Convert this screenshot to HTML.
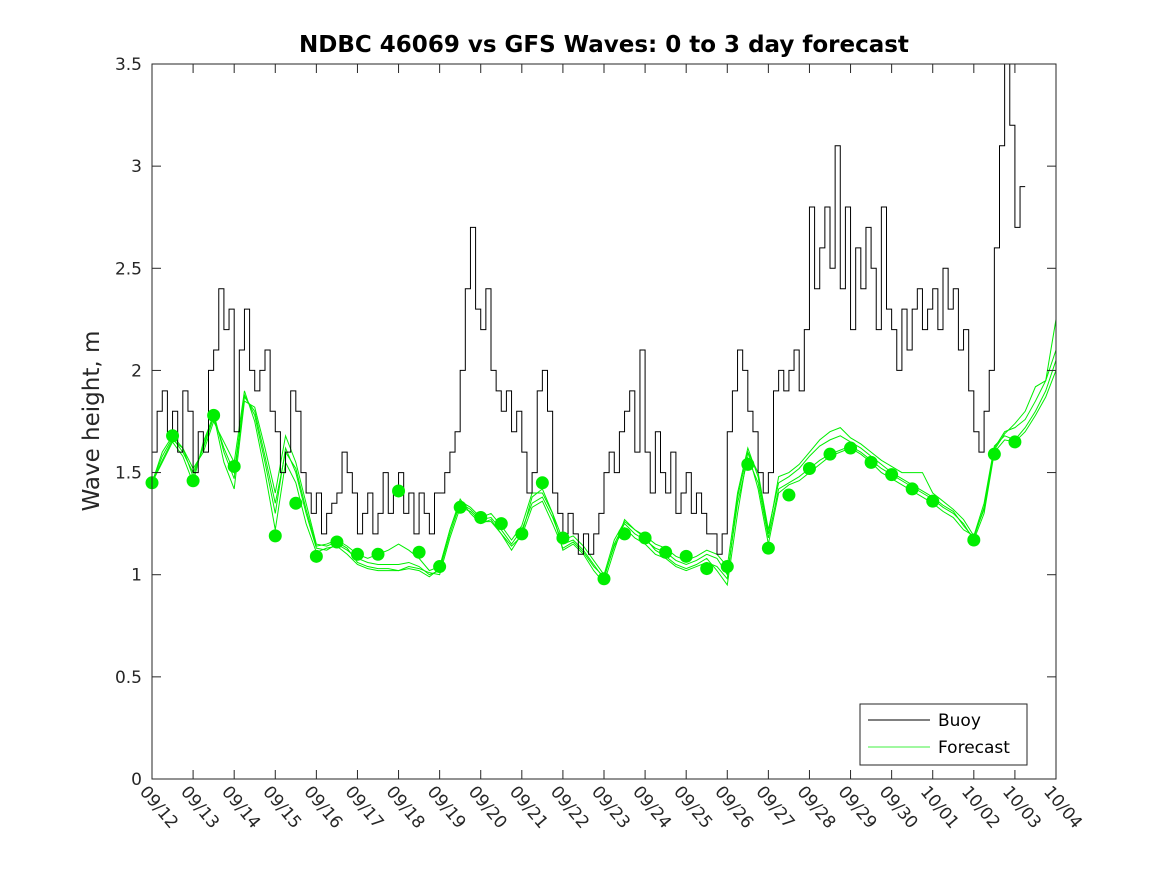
<!DOCTYPE html>
<html><head><meta charset="utf-8">
<style>
body{margin:0;background:#fff;}
svg text{font-family:"DejaVu Sans","Liberation Sans",sans-serif;}
</style></head>
<body>
<svg id="chart" width="1167" height="875" viewBox="0 0 1167 875">
<rect x="0" y="0" width="1167" height="875" fill="#fff"/>
<text x="604" y="52" text-anchor="middle" font-size="23" font-weight="bold" fill="#000">NDBC 46069 vs GFS Waves: 0 to 3 day forecast</text>
<text transform="translate(99,421) rotate(-90)" text-anchor="middle" font-size="23" fill="#262626">Wave height, m</text>
<g id="fc"></g>
<g id="buoy"></g>
<g id="dots"></g>
<rect x="152" y="64" width="904" height="715" fill="none" stroke="#262626" stroke-width="1"/>
<g id="ticks"></g>
<g>
<rect x="860" y="704" width="167" height="61" fill="#fff" stroke="#262626" stroke-width="1"/>
<line x1="868" y1="720" x2="930" y2="720" stroke="#000" stroke-width="1"/>
<text x="938" y="726" font-size="17" fill="#000">Buoy</text>
<line x1="868" y1="747" x2="930" y2="747" stroke="#00ee00" stroke-width="0.8"/>
<text x="938" y="753" font-size="17" fill="#000">Forecast</text>
</g>
</svg>
<script>
const xLabels=["09/12","09/13","09/14","09/15","09/16","09/17","09/18","09/19","09/20","09/21","09/22","09/23","09/24","09/25","09/26","09/27","09/28","09/29","09/30","10/01","10/02","10/03","10/04"];
const yTicks=[0,0.5,1,1.5,2,2.5,3,3.5];
const buoyStep=0.125;
const buoyVals=[1.6,1.8,1.9,1.7,1.8,1.6,1.9,1.8, 1.5,1.7,1.6,2.0,2.1,2.4,2.2,2.3, 1.7,2.1,2.3,2.0,1.9,2.0,2.1,1.8, 1.7,1.5,1.6,1.9,1.8,1.5,1.4,1.3, 1.4,1.2,1.3,1.35,1.4,1.6,1.5,1.4, 1.2,1.3,1.4,1.2,1.3,1.5,1.3,1.4, 1.5,1.3,1.4,1.2,1.4,1.3,1.2,1.4, 1.4,1.5,1.6,1.7,2.0,2.4,2.7,2.3, 2.2,2.4,2.0,1.9,1.8,1.9,1.7,1.8, 1.6,1.4,1.5,1.9,2.0,1.8,1.4,1.3, 1.2,1.3,1.2,1.1,1.2,1.1,1.2,1.3, 1.5,1.6,1.5,1.7,1.8,1.9,1.6,2.1, 1.6,1.4,1.7,1.5,1.4,1.6,1.3,1.4, 1.5,1.3,1.4,1.3,1.2,1.2,1.1,1.2, 1.7,1.9,2.1,2.0,1.8,1.7,1.5,1.4, 1.5,1.9,2.0,1.9,2.0,2.1,1.9,2.2, 2.8,2.4,2.6,2.8,2.5,3.1,2.4,2.8, 2.2,2.6,2.4,2.7,2.5,2.2,2.8,2.3, 2.2,2.0,2.3,2.1,2.3,2.4,2.2,2.3, 2.4,2.2,2.5,2.3,2.4,2.1,2.2,1.9, 1.7,1.6,1.8,2.0,2.6,3.1,3.5,3.2, 2.7,2.9];
const fcA=[1.45,1.58,1.67,1.60,1.50,1.62,1.77,1.62,1.50,1.88,1.78,1.55,1.30,1.62,1.50,1.30,1.13,1.12,1.15,1.12,1.08,1.06,1.05,1.05,1.05,1.06,1.04,1.00,1.02,1.20,1.35,1.32,1.27,1.28,1.22,1.15,1.22,1.35,1.38,1.28,1.15,1.17,1.12,1.05,0.98,1.15,1.25,1.20,1.17,1.13,1.11,1.07,1.05,1.07,1.10,1.08,1.00,1.35,1.57,1.45,1.18,1.42,1.45,1.48,1.52,1.56,1.59,1.61,1.63,1.60,1.56,1.52,1.49,1.46,1.43,1.40,1.37,1.33,1.30,1.25,1.17,1.30,1.60,1.66,1.65,1.70,1.78,1.87,2.00];
const fcB=[1.45,1.55,1.65,1.58,1.45,1.65,1.78,1.55,1.42,1.85,1.82,1.62,1.40,1.68,1.55,1.35,1.15,1.14,1.16,1.13,1.06,1.04,1.03,1.03,1.02,1.03,1.02,0.99,1.03,1.22,1.37,1.30,1.25,1.27,1.20,1.12,1.20,1.38,1.42,1.30,1.12,1.15,1.10,1.02,0.96,1.12,1.27,1.22,1.18,1.12,1.09,1.05,1.03,1.05,1.08,1.02,0.95,1.30,1.60,1.50,1.22,1.45,1.48,1.52,1.58,1.63,1.66,1.68,1.65,1.62,1.58,1.54,1.50,1.47,1.44,1.41,1.38,1.34,1.31,1.24,1.18,1.33,1.62,1.70,1.72,1.76,1.85,1.95,2.25];
const fcC=[1.45,1.56,1.66,1.62,1.52,1.60,1.75,1.65,1.55,1.90,1.75,1.50,1.22,1.55,1.45,1.25,1.11,1.13,1.14,1.10,1.05,1.03,1.02,1.02,1.02,1.04,1.03,1.01,1.00,1.18,1.33,1.31,1.26,1.26,1.20,1.14,1.19,1.33,1.36,1.25,1.13,1.16,1.11,1.04,0.99,1.14,1.23,1.18,1.15,1.10,1.08,1.04,1.02,1.04,1.06,1.04,0.98,1.38,1.60,1.42,1.15,1.40,1.44,1.46,1.50,1.54,1.58,1.60,1.62,1.59,1.55,1.50,1.47,1.44,1.41,1.38,1.35,1.31,1.28,1.22,1.19,1.35,1.63,1.68,1.66,1.72,1.80,1.90,2.05];
const fcD=[1.45,1.60,1.68,1.62,1.48,1.63,1.79,1.60,1.47,1.87,1.80,1.58,1.35,1.60,1.52,1.32,1.14,1.15,1.17,1.14,1.10,1.08,1.10,1.12,1.15,1.12,1.08,1.02,1.04,1.22,1.36,1.33,1.28,1.30,1.24,1.17,1.24,1.40,1.40,1.30,1.17,1.19,1.14,1.07,1.00,1.17,1.26,1.22,1.19,1.15,1.13,1.09,1.07,1.09,1.12,1.10,1.04,1.40,1.62,1.48,1.20,1.48,1.50,1.54,1.60,1.66,1.70,1.72,1.67,1.64,1.60,1.56,1.53,1.50,1.50,1.50,1.40,1.36,1.32,1.27,1.19,1.32,1.61,1.69,1.74,1.80,1.92,1.95,2.10];
const dotDays=[0,0.5,1,1.5,2,3,3.5,4,4.5,5,5.5,6,6.5,7,7.5,8,8.5,9,9.5,10,11,11.5,12,12.5,13,13.5,14,14.5,15,15.5,16,16.5,17,17.5,18,18.5,19,20,20.5,21];
const dotVals=[1.45,1.68,1.46,1.78,1.53,1.19,1.35,1.09,1.16,1.10,1.10,1.41,1.11,1.04,1.33,1.28,1.25,1.20,1.45,1.18,0.98,1.20,1.18,1.11,1.09,1.03,1.04,1.54,1.13,1.39,1.52,1.59,1.62,1.55,1.49,1.42,1.36,1.17,1.59,1.65];

const X0=152,X1=1056,Y0=779,Y1=64;
const xs=d=>X0+(X1-X0)*d/22;
const ys=v=>Y0-(Y0-Y1)*v/3.5;
const NS="http://www.w3.org/2000/svg";
function mk(tag,parent){const e=document.createElementNS(NS,tag);document.getElementById(parent).appendChild(e);return e;}

yTicks.forEach((t,i)=>{
  const y=ys(t);
  const l1=mk("line","ticks");l1.setAttribute("x1",X0);l1.setAttribute("x2",X0+9);l1.setAttribute("y1",y);l1.setAttribute("y2",y);l1.setAttribute("stroke","#262626");
  
  
  const l2=mk("line","ticks");l2.setAttribute("x1",X1);l2.setAttribute("x2",X1-9);l2.setAttribute("y1",y);l2.setAttribute("y2",y);l2.setAttribute("stroke","#262626");
  
  
  const tx=mk("text","ticks");tx.setAttribute("x",X0-10);tx.setAttribute("y",y+6);tx.setAttribute("text-anchor","end");tx.setAttribute("font-size","17");tx.setAttribute("fill","#262626");tx.textContent=t;
  
  
});
xLabels.forEach((s,i)=>{
  const x=xs(i);
  const l1=mk("line","ticks");l1.setAttribute("x1",x);l1.setAttribute("x2",x);l1.setAttribute("y1",Y0);l1.setAttribute("y2",Y0-9);l1.setAttribute("stroke","#262626");
  
  
  const l2=mk("line","ticks");l2.setAttribute("x1",x);l2.setAttribute("x2",x);l2.setAttribute("y1",Y1);l2.setAttribute("y2",Y1+9);l2.setAttribute("stroke","#262626");
  
  
  const tx=mk("text","ticks");tx.setAttribute("transform","translate("+(x-13)+","+(Y0+13)+") rotate(50)");tx.setAttribute("font-size","17");tx.setAttribute("fill","#262626");tx.textContent=s;
  
  
});
[fcA,fcB,fcC,fcD].forEach((arr,k)=>{
  const p=mk("polyline","fc");
  p.setAttribute("points",arr.map((v,i)=>xs(i*0.25)+","+ys(v)).join(" "));
  p.setAttribute("fill","none");p.setAttribute("stroke","#00ee00");p.setAttribute("stroke-width","1");
  
  
});
{
  const pts=[];
  buoyVals.forEach((v,i)=>{pts.push(xs(i*buoyStep)+","+ys(v));pts.push(xs((i+1)*buoyStep)+","+ys(v));});
  const p=mk("polyline","buoy");
  p.setAttribute("points",pts.join(" "));
  p.setAttribute("fill","none");p.setAttribute("stroke","#000");p.setAttribute("stroke-width","1");
  
  
}
dotDays.forEach((d,i)=>{
  const c=mk("circle","dots");
  c.setAttribute("cx",xs(d));c.setAttribute("cy",ys(dotVals[i]));c.setAttribute("r","6.5");c.setAttribute("fill","#00ee00");
  
  
});
</script>
</body></html>
